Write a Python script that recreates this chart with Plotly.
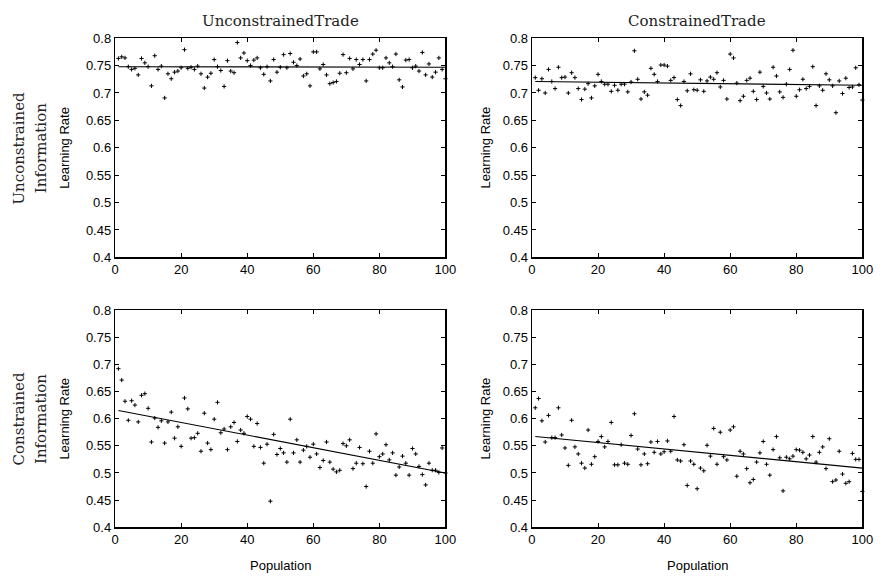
import plotly.graph_objects as go

# ---------------- data ----------------
population = list(range(1, 101))

uu_rate = [0.763, 0.766, 0.764, 0.748, 0.743, 0.745, 0.733, 0.763, 0.755, 0.748,
           0.713, 0.768, 0.743, 0.749, 0.691, 0.735, 0.726, 0.738, 0.740, 0.746,
           0.779, 0.745, 0.747, 0.743, 0.749, 0.735, 0.709, 0.729, 0.736, 0.761,
           0.748, 0.741, 0.712, 0.759, 0.740, 0.737, 0.792, 0.764, 0.773, 0.759,
           0.750, 0.760, 0.764, 0.746, 0.734, 0.748, 0.722, 0.761, 0.738, 0.747,
           0.770, 0.746, 0.772, 0.756, 0.750, 0.762, 0.731, 0.735, 0.713, 0.775,
           0.775, 0.744, 0.752, 0.733, 0.717, 0.719, 0.721, 0.736, 0.770, 0.737,
           0.763, 0.744, 0.761, 0.752, 0.761, 0.722, 0.761, 0.771, 0.778, 0.746,
           0.746, 0.764, 0.755, 0.748, 0.771, 0.724, 0.711, 0.760, 0.761, 0.746,
           0.749, 0.740, 0.774, 0.733, 0.753, 0.729, 0.738, 0.764, 0.743, 0.726]

uc_rate = [0.728, 0.705, 0.726, 0.700, 0.743, 0.721, 0.708, 0.747, 0.728, 0.729,
           0.700, 0.737, 0.728, 0.708, 0.688, 0.707, 0.717, 0.691, 0.713, 0.734,
           0.721, 0.716, 0.716, 0.703, 0.714, 0.705, 0.716, 0.716, 0.702, 0.720,
           0.777, 0.725, 0.689, 0.702, 0.696, 0.745, 0.734, 0.721, 0.751, 0.751,
           0.749, 0.723, 0.728, 0.688, 0.677, 0.721, 0.704, 0.735, 0.706, 0.705,
           0.724, 0.703, 0.722, 0.729, 0.725, 0.737, 0.711, 0.723, 0.689, 0.771,
           0.764, 0.718, 0.686, 0.694, 0.723, 0.727, 0.703, 0.688, 0.738, 0.712,
           0.700, 0.689, 0.747, 0.731, 0.702, 0.692, 0.716, 0.743, 0.778, 0.694,
           0.706, 0.725, 0.708, 0.712, 0.748, 0.677, 0.713, 0.705, 0.735, 0.724,
           0.713, 0.664, 0.722, 0.699, 0.727, 0.710, 0.711, 0.746, 0.715, 0.687]

cu_rate = [0.692, 0.671, 0.632, 0.597, 0.633, 0.625, 0.594, 0.643, 0.646, 0.619,
           0.557, 0.601, 0.584, 0.596, 0.555, 0.594, 0.612, 0.564, 0.585, 0.549,
           0.638, 0.618, 0.564, 0.565, 0.573, 0.540, 0.610, 0.555, 0.543, 0.599,
           0.630, 0.574, 0.581, 0.543, 0.585, 0.593, 0.558, 0.579, 0.573, 0.604,
           0.599, 0.549, 0.591, 0.547, 0.518, 0.553, 0.448, 0.571, 0.534, 0.545,
           0.537, 0.520, 0.599, 0.537, 0.561, 0.520, 0.542, 0.549, 0.529, 0.553,
           0.535, 0.510, 0.523, 0.557, 0.520, 0.507, 0.502, 0.505, 0.554, 0.550,
           0.561, 0.508, 0.518, 0.547, 0.517, 0.475, 0.540, 0.518, 0.572, 0.530,
           0.535, 0.552, 0.524, 0.537, 0.496, 0.511, 0.531, 0.518, 0.496, 0.545,
           0.535, 0.512, 0.497, 0.478, 0.518, 0.505, 0.505, 0.501, 0.546, 0.500]

cc_rate = [0.620, 0.637, 0.596, 0.557, 0.606, 0.565, 0.565, 0.620, 0.570, 0.546,
           0.514, 0.597, 0.548, 0.535, 0.518, 0.509, 0.579, 0.516, 0.530, 0.558,
           0.567, 0.548, 0.558, 0.593, 0.515, 0.515, 0.552, 0.518, 0.516, 0.569,
           0.609, 0.544, 0.515, 0.535, 0.517, 0.557, 0.538, 0.558, 0.535, 0.539,
           0.559, 0.540, 0.604, 0.524, 0.522, 0.552, 0.477, 0.522, 0.516, 0.471,
           0.509, 0.504, 0.551, 0.531, 0.582, 0.516, 0.575, 0.530, 0.524, 0.579,
           0.585, 0.494, 0.540, 0.535, 0.508, 0.482, 0.488, 0.520, 0.537, 0.558,
           0.516, 0.496, 0.543, 0.567, 0.528, 0.467, 0.529, 0.526, 0.531, 0.543,
           0.542, 0.538, 0.526, 0.533, 0.567, 0.520, 0.538, 0.548, 0.508, 0.563,
           0.484, 0.487, 0.540, 0.498, 0.481, 0.484, 0.536, 0.525, 0.525, 0.466]

fit_x = [1, 100]
uu_fit = [0.748, 0.747]
uc_fit = [0.721, 0.714]
cu_fit = [0.615, 0.500]
cc_fit = [0.567, 0.509]

col_titles = ["UnconstrainedTrade", "ConstrainedTrade"]
row_titles = [["Unconstrained", "Information"], ["Constrained", "Information"]]
y_label = "Learning Rate"
x_label = "Population"
x_ticks = [0, 20, 40, 60, 80, 100]
y_ticks = [0.4, 0.45, 0.5, 0.55, 0.6, 0.65, 0.7, 0.75, 0.8]
y_tick_text = ["0.4", "0.45", "0.5", "0.55", "0.6", "0.65", "0.7", "0.75", "0.8"]

# ---------------- layout geometry ----------------
W, H = 893, 584
xdom = [[113 / W, 449 / W], [537 / W, 873 / W]]
ydom = [[1 - 257 / H, 1 - 32 / H], [1 - 534 / H, 1 - 311 / H]]

panels = [
    (0, 0, uu_rate, uu_fit),
    (0, 1, uc_rate, uc_fit),
    (1, 0, cu_rate, cu_fit),
    (1, 1, cc_rate, cc_fit),
]

SANS = "Liberation Sans, Arial, sans-serif"
SERIF = "DejaVu Serif, serif"

fig = go.Figure()
layout = dict(width=W, height=H, margin=dict(l=0, r=0, t=0, b=0),
              paper_bgcolor="white", plot_bgcolor="white", showlegend=False)

for i, (r, c, vals, fit) in enumerate(panels):
    n = i + 1
    xa = "x" if n == 1 else f"x{n}"
    ya = "y" if n == 1 else f"y{n}"
    fig.add_trace(go.Scatter(x=population, y=vals, mode="markers", xaxis=xa, yaxis=ya,
                             marker=dict(symbol="cross-thin", size=3, color="black",
                                         line=dict(width=1, color="black")),
                             cliponaxis=False))
    fig.add_trace(go.Scatter(x=fit_x, y=fit, mode="lines", xaxis=xa, yaxis=ya,
                             line=dict(color="black", width=1.1)))
    common = dict(showgrid=False, zeroline=False, showline=True, linecolor="black",
                  linewidth=1.3, mirror="ticks", ticks="inside", ticklen=4,
                  tickcolor="black", tickwidth=1,
                  tickfont=dict(family=SANS, size=13, color="black"))
    layout[f"xaxis{'' if n == 1 else n}"] = dict(
        domain=xdom[c], range=[0, 100], tickvals=x_ticks, anchor=ya, **common)
    layout[f"yaxis{'' if n == 1 else n}"] = dict(
        domain=ydom[r], range=[0.4, 0.8], tickvals=y_ticks, ticktext=y_tick_text,
        anchor=xa, **common)

annotations = []
for c in range(2):
    xc = (xdom[c][0] + xdom[c][1]) / 2
    annotations.append(dict(text=col_titles[c], x=xc, y=1 - 14 / H, xref="paper", yref="paper",
                            showarrow=False, font=dict(family=SERIF, size=15, color="#222"),
                            xanchor="center", yanchor="middle"))
    annotations.append(dict(text=x_label, x=xc, y=1 - 573 / H, xref="paper", yref="paper",
                            showarrow=False, font=dict(family=SANS, size=13, color="black"),
                            xanchor="center", yanchor="middle"))
for r in range(2):
    yc = (ydom[r][0] + ydom[r][1]) / 2
    for k, xpx in enumerate([15, 37]):
        annotations.append(dict(text=row_titles[r][k], x=xpx / W, y=yc, xref="paper", yref="paper",
                                showarrow=False, textangle=-90,
                                font=dict(family=SERIF, size=15, color="#222"),
                                xanchor="center", yanchor="middle"))
    for xpx in [62, 490]:
        annotations.append(dict(text=y_label, x=xpx / W, y=yc, xref="paper", yref="paper",
                                showarrow=False, textangle=-90,
                                font=dict(family=SANS, size=13, color="black"),
                                xanchor="center", yanchor="middle"))

layout["annotations"] = annotations
fig.update_layout(**layout)
fig.write_html("out.html", config={"displayModeBar": False, "staticPlot": True})

# remove the default page margin so the figure fills the window exactly
with open("out.html", "r", encoding="utf-8") as f:
    html = f.read()
html = html.replace("<head>", "<head><style>html,body{margin:0;padding:0;overflow:hidden;}</style>", 1)
with open("out.html", "w", encoding="utf-8") as f:
    f.write(html)
